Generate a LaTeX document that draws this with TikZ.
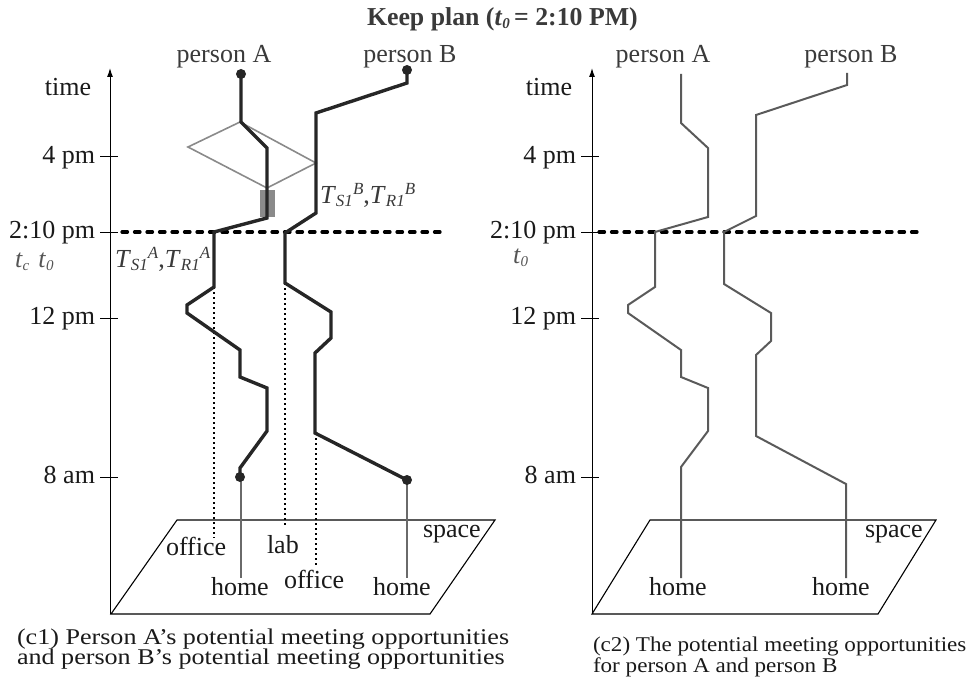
\documentclass[tikz,border=0pt]{standalone}
\usepackage{fontspec}
\setmainfont{Liberation Serif}
\usetikzlibrary{arrows.meta}
\definecolor{inkdark}{HTML}{262626}
\definecolor{inkgray}{HTML}{5A5A5A}
\definecolor{homegray}{HTML}{6A6A6A}
\definecolor{zonegray}{HTML}{8A8A8A}
\definecolor{txtdark}{HTML}{1A1A1A}
\definecolor{txtsoft}{HTML}{3A3A3A}
\definecolor{txtlight}{HTML}{555555}
\newcommand\lblfont{\fontsize{26}{30}\selectfont}
\newcommand\smallit[1]{{\fontsize{17}{17}\selectfont\textit{#1}}}
\newcommand\tinyit[1]{{\fontsize{15}{15}\selectfont\textit{#1}}}
% T with a lowered subscript and a raised superscript placed after it
\newcommand\tsub[2]{\textit{T}\raisebox{-3.5pt}{\smallit{#1}}\raisebox{8.5pt}{\smallit{#2}}}
% caption lines are set a little wide
\newcommand\capwide[1]{\scalebox{1.16}[1]{#1}}
\newcommand\capwider[1]{\scalebox{1.1}[1]{#1}}
\begin{document}
\begin{tikzpicture}[x=1pt,y=-1pt,
  every node/.style={inner sep=0pt,outer sep=0pt,font=\lblfont,text=txtdark},
  axisline/.style={line width=1pt,draw=black,-{Latex[length=9pt,width=6pt]}},
  tickline/.style={line width=1pt,draw=black},
  nowline/.style={line width=3.2pt,draw=black,line cap=round,dash pattern=on 5.5pt off 7pt},
  trackdark/.style={line width=3.4pt,draw=inkdark,line join=miter},
  trackgray/.style={line width=2pt,draw=inkgray},
  homeline/.style={line width=2pt,draw=homegray},
  zone/.style={line width=1.6pt,draw=zonegray},
  stay/.style={fill=zonegray},
  dropline/.style={line width=1.5pt,draw=black,dash pattern=on 1.5pt off 3.5pt},
  plane/.style={line width=1.1pt,draw=black},
  enddot/.style={fill=inkdark},
  persontxt/.style={text=txtsoft,anchor=base},
  timetxt/.style={anchor=base east},
  marktxt/.style={text=txtsoft,anchor=base west},
  capleft/.style={anchor=base west,font=\fontsize{22.5}{26}\selectfont},
  capright/.style={anchor=base west,font=\fontsize{21}{25}\selectfont}]
\useasboundingbox (0,0) rectangle (972,682);

% title
\node[anchor=base west,font=\fontsize{25.8}{30}\selectfont\bfseries,text=txtsoft] (title) at (367,26)
  {Keep plan (\textit{t}\raisebox{-3pt}{\tinyit{0}}\,= 2:10 PM)};

% ================= left panel =================
\coordinate (Lbot) at (110,614);
\coordinate (Ltop) at (110,68);
\draw[axisline] (Lbot) -- (Ltop);
\foreach \yy/\nm in {157/4 pm,232/2:10 pm,318/12 pm,477/8 am}{
  \draw[tickline] (100,\yy) -- (118,\yy);
  \node[timetxt] at (95,\yy+6.5) {\nm};
}
\node[anchor=base] (Ltime) at (68,96) {time};
\node[anchor=base west,text=txtlight] (Ltc) at (15,267)
  {\textit{t}\raisebox{-3pt}{\tinyit{c}}\hspace{9pt}\textit{t}\raisebox{-3pt}{\tinyit{0}}};

% space plane
\coordinate (P1) at (111,614); \coordinate (P2) at (177,520);
\coordinate (P3) at (495,520); \coordinate (P4) at (430,614);
\draw[plane] (P1) -- (P2) -- (P3) -- (P4) -- cycle;
\node[anchor=base west] (Lspace) at (423,537) {space};

% current time
\coordinate (Ln0) at (122,232); \coordinate (Ln1) at (445,232);
\draw[nowline] (Ln0) -- (Ln1);

% meeting zone and stay
\draw[zone] (240,122) -- (316,163) -- (267,188) -- (188,147) -- cycle;
\fill[stay] (260,190) rectangle (275,217);

% drop lines to places
\draw[dropline] (214,287) -- (214,538);
\draw[dropline] (285,283) -- (285,528);
\draw[dropline] (316,433) -- (316,565);

% home lines
\coordinate (LhA) at (241,578); \coordinate (LhB) at (407,578);
\draw[homeline] (241,477) -- (LhA);
\draw[homeline] (407,480) -- (LhB);

% person A track
\draw[trackdark] (241,74) -- (241,122) -- (267,148) -- (267,218) -- (214,232)
  -- (214,287) -- (187,305) -- (187,313) -- (240,350) -- (240,377) -- (267,388)
  -- (267,431) -- (240,468) -- (240,477);
\fill[enddot] (241,74) circle (5);
\fill[enddot] (240,477) circle (5);
% person B track
\draw[trackdark] (407,70) -- (407,83) -- (316,113) -- (316,213) -- (285,233)
  -- (285,283) -- (331,312) -- (331,338) -- (315,353) -- (315,433) -- (407,480);
\fill[enddot] (407,70) circle (5);
\fill[enddot] (407,480) circle (5);

\node[persontxt] (LpA) at (224,63) {person A};
\node[persontxt] (LpB) at (410,63) {person B};
\node[marktxt] (LTB) at (320,203) {\tsub{S1}{B},\tsub{R1}{B}};
\node[marktxt] (LTA) at (115,267) {\tsub{S1}{A},\tsub{R1}{A}};

\node[anchor=base west] (Loff1) at (166,555) {office};
\node[anchor=base west] (Llab) at (267,553) {lab};
\node[anchor=base west] (Loff2) at (284,588) {office};
\node[anchor=base west] (LhomeA) at (211,595) {home};
\node[anchor=base west] (LhomeB) at (373,595) {home};

\node[capleft] (capL1) at (17,644) {\capwide{(c1) Person A’s potential meeting opportunities}};
\node[capleft] (capL2) at (17,664.5) {\capwide{and person B’s potential meeting opportunities}};

% ================= right panel =================
\coordinate (Rbot) at (592,614);
\coordinate (Rtop) at (592,68);
\draw[axisline] (Rbot) -- (Rtop);
\foreach \yy/\nm in {157/4 pm,232/2:10 pm,318/12 pm,477/8 am}{
  \draw[tickline] (581,\yy) -- (599,\yy);
  \node[timetxt] at (576,\yy+6.5) {\nm};
}
\node[anchor=base] (Rtime) at (549,96) {time};
\node[anchor=base west,text=txtlight] (Rt0) at (513,263)
  {\textit{t}\raisebox{-3pt}{\tinyit{0}}};

\coordinate (Q1) at (592,614); \coordinate (Q2) at (650,520);
\coordinate (Q3) at (936,520); \coordinate (Q4) at (878,614);
\draw[plane] (Q1) -- (Q2) -- (Q3) -- (Q4) -- cycle;
\node[anchor=base west] (Rspace) at (865,537) {space};

\coordinate (Rn0) at (599,232); \coordinate (Rn1) at (921,232);
\draw[nowline] (Rn0) -- (Rn1);

\draw[trackgray] (681,74) -- (681,123) -- (708,148) -- (708,217) -- (655,232)
  -- (655,287) -- (628,305) -- (628,313) -- (681,350) -- (681,377) -- (708,388)
  -- (708,431) -- (681,467) -- (681,578);
\draw[trackgray] (847,73) -- (847,85) -- (756,115) -- (756,216) -- (724,232)
  -- (724,284) -- (771,313) -- (771,341) -- (756,355) -- (756,436) -- (846,484)
  -- (846,578);

\node[persontxt] (RpA) at (663,63) {person A};
\node[persontxt] (RpB) at (851,63) {person B};
\node[anchor=base west] (RhomeA) at (649,595) {home};
\node[anchor=base west] (RhomeB) at (812,595) {home};

\node[capright] (capR1) at (593,651) {\capwider{(c2) The potential meeting opportunities}};
\node[capright] (capR2) at (593,672) {\capwider{for person A and person B}};
\end{tikzpicture}
\end{document}
